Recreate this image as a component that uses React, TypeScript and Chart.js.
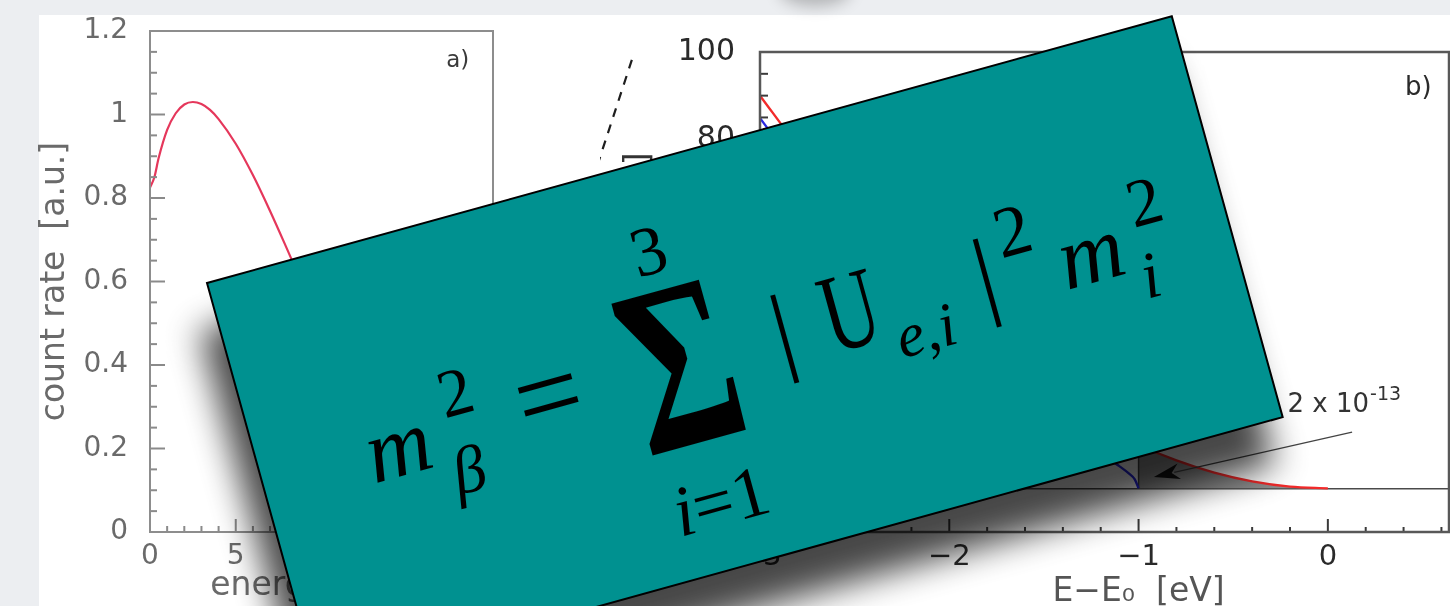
import { useEffect, useRef } from "react";
import { Chart, registerables } from "chart.js";

Chart.register(...registerables);

// ---- panel a: full tritium beta spectrum ----
const ENERGY_KEV = [0, 0.25, 0.5, 1, 1.5, 2, 2.5, 3, 3.5, 4, 5, 6, 7, 8, 9, 10, 11, 12, 13, 14, 15, 16, 17, 18, 18.6];
const COUNT_RATE = [0.825, 0.849, 0.895, 0.963, 1.003, 1.024, 1.03, 1.025, 1.011, 0.989, 0.93, 0.855, 0.769, 0.677, 0.583, 0.488, 0.397, 0.311, 0.232, 0.162, 0.102, 0.055, 0.021, 0.003, 0];
const ENERGY_TICKS = [0, 5, 10, 15, 20];
const RATE_A_TICKS = [0, 0.2, 0.4, 0.6, 0.8, 1, 1.2];

// ---- panel b: the last few eV below the endpoint E0 ----
const DE_M0 = [-3, -2.8, -2.6, -2.4, -2.2, -2, -1.8, -1.6, -1.4, -1.2, -1, -0.8, -0.6, -0.4, -0.2, 0];
const RATE_M0 = [90, 78.4, 67.6, 57.6, 48.4, 40, 32.4, 25.6, 19.6, 14.4, 10, 6.4, 3.6, 1.6, 0.4, 0];
const DE_M1 = [-3, -2.8, -2.6, -2.4, -2.2, -2, -1.8, -1.6, -1.4, -1.2, -1.1, -1.05, -1.02, -1];
const RATE_M1 = [84.85, 73.23, 62.4, 52.36, 43.11, 34.64, 26.94, 19.98, 13.72, 7.96, 5.04, 3.36, 2.05, 0];
const DE_SHADE = [-1, -0.8, -0.6, -0.4, -0.2, 0];
const RATE_SHADE = [10, 6.4, 3.6, 1.6, 0.4, 0];
const DE_GUIDE = [-3.677, -3.95];
const RATE_GUIDE = [98.2, 62];
const DE_TICKS = [-3, -2, -1, 0];
const RATE_B_TICKS = [0, 20, 40, 60, 80, 100];
const FRACTION_BASE = "2 x 10";
const FRACTION_EXP = "-13";

const SANS = "'DejaVu Sans', 'Liberation Sans', sans-serif";
const SERIF = "'Liberation Serif', 'Times New Roman', serif";

const pts = (xs: number[], ys: number[]) => xs.map((x, i) => ({ x, y: ys[i] }));
const plainLabel = (v: any) => String(Number(Number(v).toFixed(2)));
const minusLabel = (v: any) => (Number(v) < 0 ? "\u2212" + Math.abs(Number(v)) : String(v));

// fixed axis sizes, and no extra room reserved for half-labels at the ends
const fixWidth = (w: number) => (s: any) => {
  s.width = w;
  s.paddingTop = 0;
  s.paddingBottom = 0;
  s.paddingLeft = 0;
  s.paddingRight = 0;
};
const fixHeight = (h: number) => (s: any) => {
  s.height = h;
  s.paddingTop = 0;
  s.paddingBottom = 0;
  s.paddingLeft = 0;
  s.paddingRight = 0;
};

type TickSpec = { axis: "x" | "y"; minor: number; major: number; minorLen: number; majorLen: number };

// inward-pointing tick marks plus the box around the plot area
const frameTicks = {
  id: "frameTicks",
  afterDatasetsDraw(chart: any, _args: any, opts: any) {
    const { ctx, chartArea: a } = chart;
    ctx.save();
    ctx.strokeStyle = opts.tickColor;
    ctx.lineWidth = opts.tickWidth;
    for (const t of opts.ticks as TickSpec[]) {
      const s = chart.scales[t.axis];
      const i0 = Math.ceil(s.min / t.minor - 1e-6);
      const i1 = Math.floor(s.max / t.minor + 1e-6);
      const ratio = Math.round(t.major / t.minor);
      for (let i = i0; i <= i1; i++) {
        const p = s.getPixelForValue(i * t.minor);
        const len = i % ratio === 0 ? t.majorLen : t.minorLen;
        ctx.beginPath();
        if (t.axis === "x") {
          ctx.moveTo(p, a.bottom);
          ctx.lineTo(p, a.bottom - len);
        } else {
          ctx.moveTo(a.left, p);
          ctx.lineTo(a.left + len, p);
        }
        ctx.stroke();
      }
    }
    ctx.strokeStyle = opts.frameColor;
    ctx.lineWidth = opts.frameWidth;
    ctx.strokeRect(a.left, a.top, a.right - a.left, a.bottom - a.top);
    ctx.restore();
  },
};

// panel letters, the fraction label with its arrow, and the offset axis title
const notes = {
  id: "notes",
  afterDraw(chart: any, _args: any, opts: any) {
    const { ctx } = chart;
    const sx = chart.scales.x;
    const sy = chart.scales.y;
    ctx.save();
    for (const n of opts.items) {
      const px = sx.getPixelForValue(n.x);
      const py = n.fromBottom !== undefined ? chart.height - n.fromBottom : sy.getPixelForValue(n.y);
      if (n.kind === "text") {
        ctx.font = `${n.size}px ${SANS}`;
        ctx.fillStyle = n.color;
        ctx.textAlign = n.align || "center";
        ctx.textBaseline = n.baseline || "middle";
        ctx.fillText(n.text, px, py);
      } else if (n.kind === "power") {
        ctx.font = `${n.size}px ${SANS}`;
        ctx.fillStyle = n.color;
        ctx.textAlign = "left";
        ctx.textBaseline = "alphabetic";
        ctx.fillText(n.base, px, py);
        const w = ctx.measureText(n.base).width;
        ctx.font = `${Math.round(n.size * 0.72)}px ${SANS}`;
        ctx.fillText(n.exp, px + w + 1, py - n.size * 0.45);
      } else if (n.kind === "arrow") {
        const x0 = sx.getPixelForValue(n.x0);
        const y0 = sy.getPixelForValue(n.y0);
        const x1 = sx.getPixelForValue(n.x1);
        const y1 = sy.getPixelForValue(n.y1);
        const ang = Math.atan2(y1 - y0, x1 - x0);
        const c = Math.cos(ang);
        const s = Math.sin(ang);
        ctx.strokeStyle = n.color;
        ctx.lineWidth = 1.3;
        ctx.beginPath();
        ctx.moveTo(x0, y0);
        ctx.lineTo(x1 - c * n.head * 0.8, y1 - s * n.head * 0.8);
        ctx.stroke();
        ctx.fillStyle = n.headColor;
        ctx.beginPath();
        ctx.moveTo(x1, y1);
        ctx.lineTo(x1 - c * n.head + s * n.half, y1 - s * n.head - c * n.half);
        ctx.lineTo(x1 - c * n.head * 0.7, y1 - s * n.head * 0.7);
        ctx.lineTo(x1 - c * n.head - s * n.half, y1 - s * n.head + c * n.half);
        ctx.closePath();
        ctx.fill();
      }
    }
    ctx.restore();
  },
};

function spectrumConfig(): any {
  const grey = "#6a6a6a";
  return {
    type: "line",
    data: {
      datasets: [
        {
          data: pts(ENERGY_KEV, COUNT_RATE),
          borderColor: "#e5375b",
          borderWidth: 2.2,
          pointRadius: 0,
          cubicInterpolationMode: "monotone",
          fill: false,
        },
      ],
    },
    options: {
      animation: false,
      responsive: false,
      events: [],
      layout: { padding: { top: 16, right: 17, bottom: 0, left: 0 } },
      plugins: {
        legend: { display: false },
        tooltip: { enabled: false },
        frameTicks: {
          tickColor: "#8a8a8a",
          tickWidth: 2,
          frameColor: "#8d8d8d",
          frameWidth: 2,
          ticks: [
            { axis: "x", minor: 1, major: 5, minorLen: 6, majorLen: 13 },
            { axis: "y", minor: 0.05, major: 0.2, minorLen: 7, majorLen: 15 },
          ],
        },
        notes: { items: [{ kind: "text", x: 17.94, y: 1.128, text: "a)", size: 23, color: "#3a3a3a" }] },
      },
      scales: {
        x: {
          type: "linear",
          min: 0,
          max: 20,
          afterBuildTicks: (s: any) => {
            s.ticks = ENERGY_TICKS.map((value) => ({ value }));
          },
          afterFit: fixHeight(74),
          grid: { display: false, drawTicks: false },
          border: { display: false },
          ticks: { padding: 8, color: grey, font: { family: SANS, size: 28 }, maxRotation: 0, autoSkip: false, callback: plainLabel },
          title: { display: true, text: "energy  [keV]", color: grey, font: { family: SANS, size: 33 }, padding: 0 },
        },
        y: {
          type: "linear",
          min: 0,
          max: 1.2,
          afterBuildTicks: (s: any) => {
            s.ticks = RATE_A_TICKS.map((value) => ({ value }));
          },
          afterFit: fixWidth(114),
          grid: { display: false, drawTicks: false },
          border: { display: false },
          ticks: { padding: 22, color: grey, font: { family: SANS, size: 28 }, autoSkip: false, callback: plainLabel },
          title: { display: true, text: "count rate  [a.u.]", color: grey, font: { family: SANS, size: 33 }, padding: 0 },
        },
      },
    },
    plugins: [frameTicks, notes],
  };
}

function endpointConfig(): any {
  const dark = "#2a2a2a";
  return {
    type: "line",
    data: {
      datasets: [
        {
          data: pts(DE_M0, RATE_M0),
          borderColor: "#f22a2a",
          borderWidth: 2.4,
          pointRadius: 0,
          cubicInterpolationMode: "monotone",
          fill: false,
          order: 1,
        },
        {
          data: pts(DE_M1, RATE_M1),
          borderColor: "#2828e0",
          borderWidth: 2.4,
          pointRadius: 0,
          cubicInterpolationMode: "monotone",
          fill: false,
          order: 2,
        },
        {
          data: pts(DE_GUIDE, RATE_GUIDE),
          borderColor: "#1e1e1e",
          borderWidth: 2.2,
          borderDash: [9, 8],
          pointRadius: 0,
          fill: false,
          clip: false,
          order: 3,
        },
        {
          data: pts([DE_SHADE[0], DE_SHADE[0]], [0, RATE_SHADE[0]]),
          borderColor: "#444",
          borderWidth: 1.5,
          pointRadius: 0,
          fill: false,
          order: 4,
        },
        {
          data: pts(DE_SHADE, RATE_SHADE),
          borderWidth: 0,
          backgroundColor: "#8f8f8f",
          pointRadius: 0,
          cubicInterpolationMode: "monotone",
          fill: "origin",
          order: 5,
        },
      ],
    },
    options: {
      animation: false,
      responsive: false,
      events: [],
      layout: { padding: { top: 37, right: 11, bottom: 0, left: 0 } },
      plugins: {
        legend: { display: false },
        tooltip: { enabled: false },
        frameTicks: {
          tickColor: "#3a3a3a",
          tickWidth: 2,
          frameColor: "#585858",
          frameWidth: 2.5,
          ticks: [
            { axis: "x", minor: 0.2, major: 1, minorLen: 5, majorLen: 13 },
            { axis: "y", minor: 5, major: 20, minorLen: 8, majorLen: 14 },
          ],
        },
        notes: {
          items: [
            { kind: "text", x: 0.478, y: 91.7, text: "b)", size: 26, color: "#2a2a2a" },
            { kind: "power", x: -0.213, y: 17.5, base: FRACTION_BASE, exp: FRACTION_EXP, size: 26, color: "#333" },
            { kind: "arrow", x0: 0.128, y0: 12.9, x1: -0.919, y1: 2.6, color: "#444", headColor: "#111", head: 26, half: 8 },
            { kind: "text", x: -1, fromBottom: 5, text: "E\u2212E\u2080  [eV]", size: 33, color: "#555", baseline: "alphabetic" },
          ],
        },
      },
      scales: {
        x: {
          type: "linear",
          min: -3,
          max: 0.64,
          afterBuildTicks: (s: any) => {
            s.ticks = DE_TICKS.map((value) => ({ value }));
          },
          afterFit: fixHeight(74),
          grid: { display: false, drawTicks: false },
          border: { display: false },
          ticks: { padding: 8, color: dark, font: { family: SANS, size: 29 }, maxRotation: 0, autoSkip: false, callback: minusLabel },
        },
        y: {
          type: "linear",
          min: -10,
          max: 100,
          afterBuildTicks: (s: any) => {
            s.ticks = RATE_B_TICKS.map((value) => ({ value }));
          },
          afterFit: fixWidth(160),
          grid: {
            display: true,
            drawTicks: false,
            lineWidth: 1.5,
            color: (c: any) => (c.tick && c.tick.value === 0 ? "#4a4a4a" : "rgba(0,0,0,0)"),
          },
          border: { display: false },
          ticks: { padding: 25, color: dark, font: { family: SANS, size: 30 }, autoSkip: false, callback: plainLabel },
          title: { display: true, text: "count rate  [a.u.]", color: "#333", font: { family: SANS, size: 33 }, padding: { top: 20, bottom: 0 } },
        },
      },
    },
    plugins: [frameTicks, notes],
  };
}

// glyph style helpers for the formula card
const roman = (size: number): any => ({ fontFamily: SERIF, fontSize: size, fontStyle: "normal" });
const italic = (size: number): any => ({ fontFamily: SERIF, fontSize: size, fontStyle: "italic" });

export default function App() {
  const refA = useRef<HTMLCanvasElement>(null);
  const refB = useRef<HTMLCanvasElement>(null);

  useEffect(() => {
    const a = new Chart(refA.current!, spectrumConfig());
    const b = new Chart(refB.current!, endpointConfig());
    return () => {
      a.destroy();
      b.destroy();
    };
  }, []);

  const canvasStyle = (left: number, w: number, h: number): any => ({
    position: "absolute",
    left,
    top: 15,
    width: w,
    height: h,
    display: "block",
    filter: "blur(0.5px)",
  });

  return (
    <div
      style={{
        position: "absolute",
        left: 0,
        top: 0,
        width: 1450,
        height: 606,
        overflow: "hidden",
        background: "#eceef1",
      }}
    >
      <div style={{ position: "absolute", left: 39, top: 15, width: 1411, height: 591, background: "#ffffff" }} />
      <canvas ref={refA} width={474} height={591} style={canvasStyle(36, 474, 591)} />
      <canvas ref={refB} width={860} height={591} style={canvasStyle(600, 860, 591)} />
      <svg width={1450} height={606} style={{ position: "absolute", left: 0, top: 0 }}>
        <defs>
          <filter id="cardShadow" x="-20%" y="-30%" width="140%" height="160%">
            <feGaussianBlur stdDeviation="17" />
          </filter>
          <filter id="softBlob" x="-50%" y="-100%" width="200%" height="300%">
            <feGaussianBlur stdDeviation="8" />
          </filter>
        </defs>
        <ellipse cx={815} cy={-10} rx={36} ry={16} fill="#000" opacity={0.25} filter="url(#softBlob)" />
        <g transform="translate(207 283) rotate(-15.46)">
          <rect x={-20} y={44} width={1001} height={416} fill="#000" opacity={0.72} filter="url(#cardShadow)" />
          <rect x={0} y={0} width={1001} height={416} fill="#009190" stroke="#000" strokeWidth={2} />
          <g fill="#000">
            <text x={108} y={238} style={italic(90)}>m</text>
            <text x={193} y={194} style={roman(68)}>2</text>
            <text x={186} y={272} style={italic(66)}>β</text>
            <text x={299} y={238} style={roman(118)} textAnchor="middle">=</text>
            <text x={434} y={285} style={{ ...roman(240), fontWeight: 700 }} textAnchor="middle" textLength={112} lengthAdjust="spacingAndGlyphs">Σ</text>
            <text x={434} y={110} style={roman(70)} textAnchor="middle">3</text>
            <text x={437} y={371} style={roman(72)} textAnchor="middle">
              <tspan style={{ fontStyle: "italic" }}>i</tspan>=1
            </text>
            <text x={542} y={232} style={roman(100)} textAnchor="middle">|</text>
            <text x={612} y={235} style={roman(112)} textAnchor="middle" textLength={56} lengthAdjust="spacingAndGlyphs">U</text>
            <text x={650} y={258} style={italic(62)}>e,i</text>
            <text x={752} y={232} style={roman(100)} textAnchor="middle">|</text>
            <text x={772} y={188} style={roman(72)}>2</text>
            <text x={827} y={236} style={italic(90)}>m</text>
            <text x={908} y={194} style={roman(68)}>2</text>
            <text x={902} y={266} style={italic(66)}>i</text>
          </g>
        </g>
      </svg>
    </div>
  );
}
